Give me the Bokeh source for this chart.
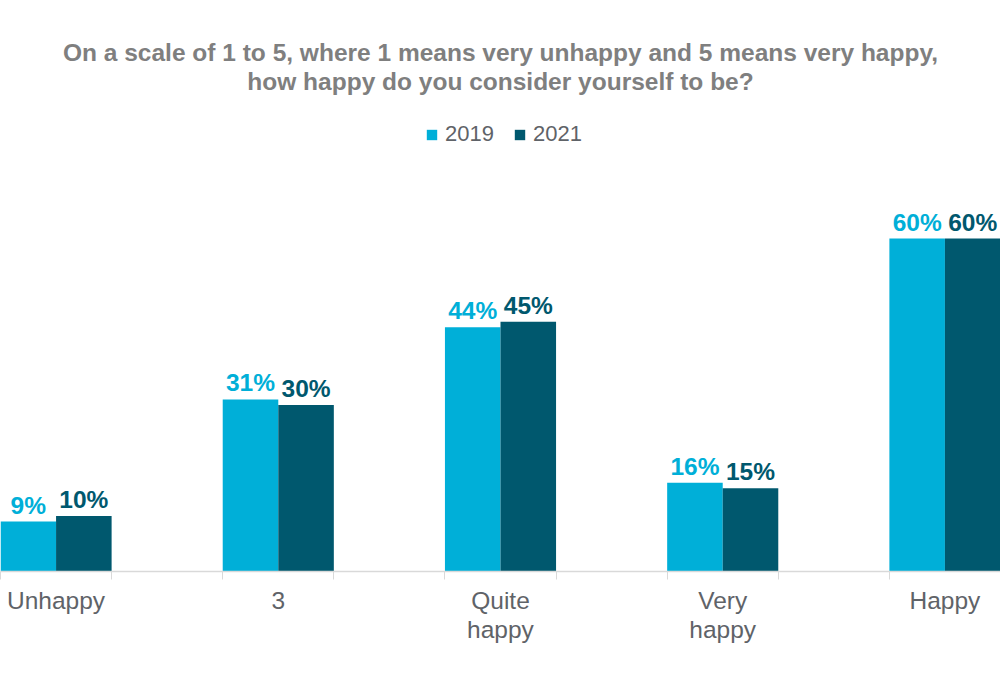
from bokeh.plotting import figure
from bokeh.models import Range1d, FixedTicker, ColumnDataSource, Legend, LegendItem
from bokeh.core.properties import value
from bokeh.embed import file_html
from bokeh.resources import INLINE

# Survey data
categories = ["Unhappy", "3", "Quite\nhappy", "Very\nhappy", "Happy"]
series_names = ["2019", "2021"]
values_2019 = [9, 31, 44, 16, 60]
values_2021 = [10, 30, 45, 15, 60]

title_lines = [
    "On a scale of 1 to 5, where 1 means very unhappy and 5 means very happy,",
    "how happy do you consider yourself to be?",
]

C2019 = "#00AFD8"
C2021 = "#00586E"
GRAY_TITLE = "#7F7F7F"
GRAY_TEXT = "#5F6368"
FONT = "Liberation Sans"

W, H = 1000, 694
BASE_PX = 571            # pixel row of the zero line
PX_PER_PCT = 5.55        # vertical scale

idx = list(range(len(categories)))
bar_w = 0.25

p = figure(width=W, height=H, output_backend="svg", toolbar_location=None,
           x_range=Range1d(-0.25, len(categories) - 0.75),
           y_range=Range1d(0, BASE_PX / PX_PER_PCT),
           y_axis_location=None, tools="")
p.min_border_left = 0
p.min_border_right = 0
p.min_border_top = 0
p.min_border_bottom = H - BASE_PX
p.outline_line_color = None
p.grid.visible = False
p.background_fill_color = "white"
p.border_fill_color = "white"

src = ColumnDataSource(dict(
    x19=[i - bar_w / 2 for i in idx],
    x21=[i + bar_w / 2 for i in idx],
    v19=values_2019,
    v21=values_2021,
    t19=[f"{v}%" for v in values_2019],
    t21=[f"{v}%" for v in values_2021],
))

r19 = p.vbar(x="x19", top="v19", width=bar_w, source=src, fill_color=C2019, line_color=None)
r21 = p.vbar(x="x21", top="v21", width=bar_w, source=src, fill_color=C2021, line_color=None)

# value labels
for xcol, tcol, ycol, col in (("x19", "t19", "v19", C2019), ("x21", "t21", "v21", C2021)):
    p.text(x=xcol, y=ycol, text=tcol, source=src, y_offset=-3,
           text_align="center", text_baseline="bottom",
           text_font=value(FONT), text_font_style="bold",
           text_font_size="24.5px", text_color=col)

# title
title_y = [519 / PX_PER_PCT, 490 / PX_PER_PCT]
p.text(x=[(len(categories) - 1) / 2] * 2, y=title_y, text=title_lines,
       text_align="center", text_baseline="middle",
       text_font=value(FONT), text_font_style="bold",
       text_font_size="24.5px", text_color=GRAY_TITLE)

# x axis: category labels at centres, small ticks at group edges
ax = p.xaxis[0]
edges = [i + d for i in idx for d in (-0.25, 0.25)]
ax.ticker = FixedTicker(ticks=idx, minor_ticks=edges)
ax.major_label_overrides = {i: c for i, c in zip(idx, categories)}
ax.major_tick_out = 0
ax.major_tick_in = 0
ax.minor_tick_out = 8
ax.minor_tick_in = 0
ax.minor_tick_line_color = "#D9D9D9"
ax.axis_line_color = "#D9D9D9"
ax.axis_line_width = 1.5
ax.major_label_standoff = 7
ax.major_label_text_font = FONT
ax.major_label_text_font_size = "24.5px"
ax.major_label_text_color = GRAY_TEXT
ax.major_label_text_line_height = 1.08

legend = Legend(items=[LegendItem(label=series_names[0], renderers=[r19]),
                       LegendItem(label=series_names[1], renderers=[r21])],
                orientation="horizontal", location=(425, 424),
                glyph_width=13, glyph_height=13, label_standoff=7, spacing=19,
                padding=0, margin=0, border_line_color=None,
                background_fill_alpha=0,
                label_text_font=FONT, label_text_font_size="22px",
                label_text_color=GRAY_TEXT)
p.add_layout(legend)

open("out.html", "w").write(file_html(p, INLINE))
